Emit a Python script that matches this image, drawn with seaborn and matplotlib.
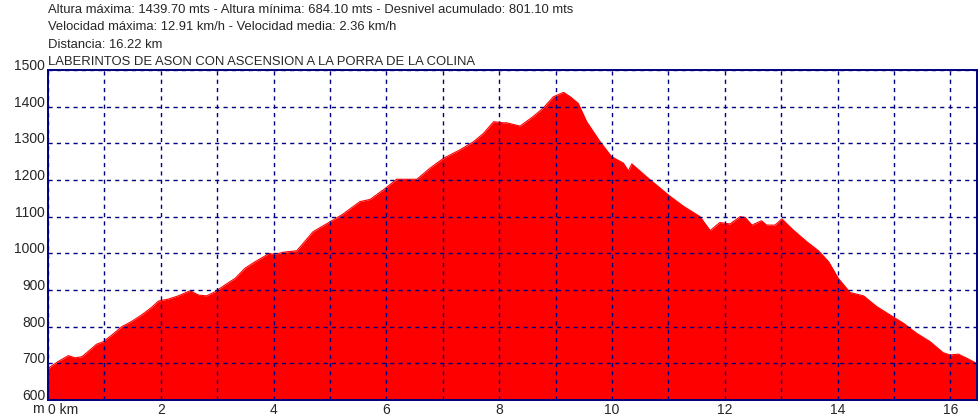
import numpy as np
import pandas as pd
import matplotlib
matplotlib.use("Agg")
import matplotlib.pyplot as plt
import matplotlib.transforms as mtransforms
import seaborn as sns

# Elevation profile (distance in km, altitude in m)
dist_km = [0.0, 0.18, 0.36, 0.48, 0.6, 0.71, 0.86, 0.98, 1.13, 1.31, 1.48, 1.66,
           1.84, 1.96, 2.13, 2.31, 2.52, 2.67, 2.81, 2.96, 3.14, 3.32, 3.49, 3.67,
           3.85, 3.91, 4.02, 4.17, 4.41, 4.5, 4.7, 5.0, 5.21, 5.53, 5.71, 5.98,
           6.18, 6.54, 6.77, 7.01, 7.3, 7.54, 7.72, 7.9, 8.07, 8.13, 8.37, 8.6,
           8.78, 8.96, 9.14, 9.26, 9.4, 9.55, 9.79, 9.99, 10.2, 10.29, 10.35, 10.61,
           11.0, 11.26, 11.56, 11.74, 11.91, 12.09, 12.27, 12.36, 12.48, 12.65, 12.74,
           12.89, 13.01, 13.21, 13.45, 13.66, 13.84, 14.01, 14.22, 14.46, 14.69,
           14.99, 15.17, 15.4, 15.64, 15.87, 15.99, 16.14, 16.29, 16.46]
alt_m = [686, 705, 721, 715, 718, 732, 752, 759, 777, 800, 814, 832,
         853, 870, 875, 884, 898, 886, 884, 895, 914, 932, 959, 977,
         993, 1000, 997, 1003, 1007, 1023, 1059, 1086, 1105, 1141, 1147, 1177,
         1202, 1202, 1232, 1259, 1282, 1304, 1327, 1359, 1356, 1356, 1347, 1373,
         1396, 1427, 1439, 1427, 1409, 1359, 1304, 1264, 1246, 1225, 1244, 1209,
         1159, 1129, 1100, 1062, 1084, 1080, 1100, 1098, 1077, 1089, 1077,
         1077, 1094, 1064, 1032, 1007, 977, 932, 893, 884, 855,
         826, 809, 782, 759, 729, 723, 725, 714, 700]

header_lines = [
    "Altura máxima: 1439.70 mts - Altura mínima: 684.10 mts - Desnivel acumulado: 801.10 mts",
    "Velocidad máxima: 12.91 km/h - Velocidad media: 2.36 km/h",
    "Distancia: 16.22 km",
    "LABERINTOS DE ASON CON ASCENSION A LA PORRA DE LA COLINA",
]
x_ticks = [0, 2, 4, 6, 8, 10, 12, 14, 16]
x_labels = ["0 km", "2", "4", "6", "8", "10", "12", "14", "16"]
y_ticks = [600, 700, 800, 900, 1000, 1100, 1200, 1300, 1400, 1500]

df = pd.DataFrame({"km": dist_km, "alt": alt_m})

sns.set_style("white")
plt.rcParams["font.family"] = ["Liberation Sans", "DejaVu Sans"]

navy = "#000080"
fig = plt.figure(figsize=(9.8, 4.2), dpi=100)
ax = fig.add_axes([48 / 980, 20 / 420, 929 / 980, 330 / 420])

ax.fill_between(df["km"], df["alt"], 600, color="#ff0000", linewidth=0, zorder=1)
sns.lineplot(data=df, x="km", y="alt", ax=ax, color="#ff0000", linewidth=0.8, zorder=2)

ax.set_xlim(0, 16.47)
ax.set_ylim(600, 1500)
ax.set_xticks(x_ticks)
ax.set_xticklabels(x_labels, fontsize=10)
ax.set_xticks(np.arange(1, 17, 2), minor=True)
ax.set_yticks(y_ticks)
ax.set_yticklabels([str(v) for v in y_ticks], fontsize=10)
ax.set_xlabel("")
ax.set_ylabel("")
ax.tick_params(axis="both", which="both", length=0, pad=2)
ax.get_xticklabels()[0].set_horizontalalignment("left")

# lift the y labels a little like in the reference
shift = mtransforms.ScaledTranslation(0, 4 / 72, fig.dpi_scale_trans)
for lab in ax.get_yticklabels():
    lab.set_transform(lab.get_transform() + shift)

ax.grid(True, which="both", color=navy, linestyle=(0, (3, 3)), linewidth=1)
ax.set_axisbelow(False)
for sp in ax.spines.values():
    sp.set_color(navy)
    sp.set_linewidth(1.4)
    sp.set_zorder(5)

fig.text(44 / 980, 1 - 409 / 420, "m", ha="right", va="center", fontsize=10)
for i, line in enumerate(header_lines):
    fig.text(48 / 980, 1 - (10 + 17.3 * i) / 420, line, ha="left", va="center", fontsize=9.4)

fig.savefig("out.png", dpi=100, facecolor="white")
